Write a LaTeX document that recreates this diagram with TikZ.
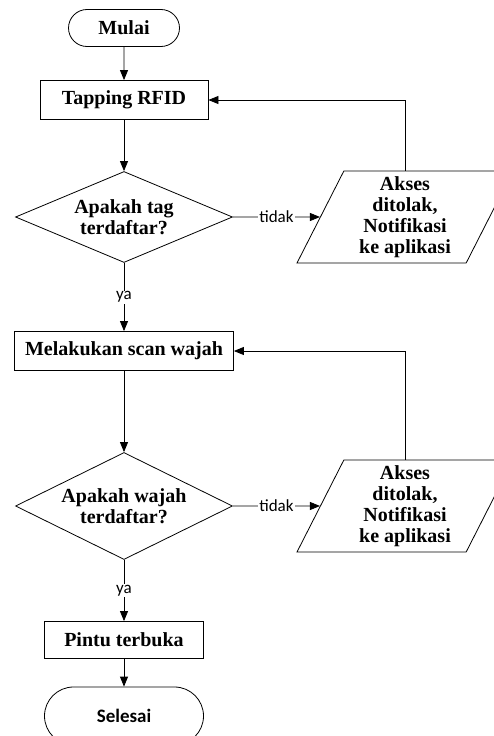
\documentclass[tikz,border=0pt]{standalone}
\usepackage{fontspec}
\setmainfont{Liberation Serif}
\newfontfamily\calibri{Carlito}
\usetikzlibrary{shapes.geometric,shapes.misc,arrows.meta}
\tikzset{
  base/.style={draw,line width=0.8pt,font=\fontsize{20}{21}\selectfont\bfseries,align=center,inner sep=0pt},
  term/.style={base,rounded rectangle},
  proc/.style={base,rectangle},
  dec/.style={base,diamond},
  io/.style={base,trapezium,trapezium left angle=60,trapezium right angle=120,trapezium stretches body=true},
  flow/.style={line width=0.8pt,-{Triangle[length=10pt,width=8pt]}},
  lbl/.style={font=\calibri\fontsize{17}{17}\selectfont,fill=white,inner sep=1pt}
}

\begin{document}
\begin{tikzpicture}[x=1pt,y=-1pt]
\useasboundingbox (0,0) rectangle (494,736);

\node[term,minimum width=111pt,minimum height=37pt] (mulai) at (124,28) {Mulai};
\node[proc,minimum width=168pt,minimum height=39pt] (rfid) at (124,100) {Tapping RFID};
\node[dec,aspect=2.4,minimum width=217pt,minimum height=91pt] (tag) at (124,217) {Apakah tag\\terdaftar?};
\node[io,minimum width=216pt,minimum height=92pt] (tolak1) at (405,217) {Akses\\ditolak,\\Notifikasi\\ke aplikasi};
\node[proc,minimum width=219pt,minimum height=39pt] (scan) at (124,351) {Melakukan scan wajah};
\node[dec,aspect=2,minimum width=217pt,minimum height=107pt] (wajah) at (124,506) {Apakah wajah\\terdaftar?};
\node[io,minimum width=216pt,minimum height=92pt] (tolak2) at (405,506) {Akses\\ditolak,\\Notifikasi\\ke aplikasi};
\node[proc,minimum width=159pt,minimum height=37pt] (pintu) at (124,640) {Pintu terbuka};
\node[term,minimum width=159pt,minimum height=58pt,font=\calibri\fontsize{19}{21}\selectfont\bfseries] (selesai) at (124,716) {Selesai};

\draw[flow] (mulai) -- (rfid);
\draw[flow] (rfid) -- (tag);
\draw[flow] (tag) -- node[lbl] {tidak} (tolak1);
\draw[flow] (tolak1.north) |- (rfid.east);
\draw[flow] (tag) -- node[lbl] {ya} (scan);
\draw[flow] (scan) -- (wajah);
\draw[flow] (wajah) -- node[lbl] {tidak} (tolak2);
\draw[flow] (tolak2.north) |- (scan.east);
\draw[flow] (wajah) -- node[lbl] {ya} (pintu);
\draw[flow] (pintu) -- (selesai);
\end{tikzpicture}
\end{document}
